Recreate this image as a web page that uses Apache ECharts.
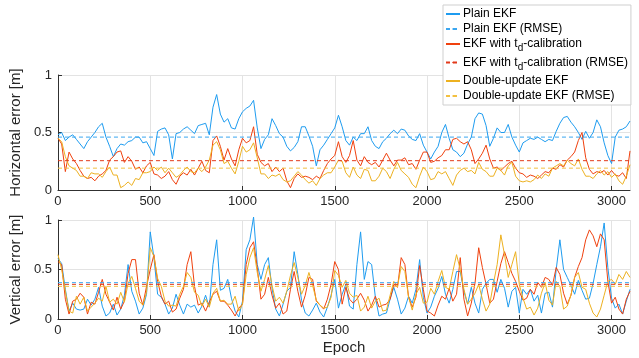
<!DOCTYPE html>
<html>
<head>
<meta charset="utf-8">
<script src="https://cdn.jsdelivr.net/npm/echarts@6/dist/echarts.min.js"></script>
<style>
html,body{margin:0;padding:0;background:#fff;}
#main{width:639px;height:358px;}
</style>
</head>
<body>
<div id="main"></div>
<script>
// one sample every STEP epochs
var STEP = 20;
var seriesNames = ['Plain EKF', 'EKF with td-calibration', 'Double-update EKF'];
var xTicks = [0, 500, 1000, 1500, 2000, 2500, 3000];
var yTicks = [0, 0.5, 1];

// horizontal error [m]
var horPlain = [
  0.48,0.50,0.43,0.46,0.48,0.44,0.40,0.36,0.42,0.46,
  0.50,0.55,0.58,0.46,0.38,0.29,0.36,0.40,0.39,0.42,
  0.43,0.46,0.46,0.41,0.42,0.36,0.30,0.51,0.53,0.54,
  0.48,0.27,0.49,0.50,0.53,0.55,0.52,0.49,0.56,0.57,
  0.58,0.48,0.72,0.83,0.66,0.59,0.62,0.54,0.53,0.62,
  0.68,0.71,0.73,0.78,0.54,0.36,0.44,0.48,0.62,0.56,
  0.49,0.46,0.38,0.34,0.37,0.42,0.55,0.55,0.47,0.38,
  0.21,0.35,0.39,0.44,0.49,0.54,0.65,0.55,0.43,0.39,
  0.46,0.43,0.49,0.49,0.55,0.43,0.38,0.36,0.42,0.45,
  0.49,0.52,0.49,0.53,0.52,0.47,0.44,0.43,0.49,0.39,
  0.33,0.27,0.33,0.38,0.50,0.57,0.45,0.35,0.33,0.29,
  0.32,0.40,0.46,0.62,0.67,0.66,0.56,0.38,0.45,0.54,
  0.50,0.50,0.57,0.46,0.39,0.33,0.41,0.43,0.45,0.44,
  0.46,0.44,0.42,0.44,0.43,0.51,0.58,0.63,0.64,0.59,
  0.55,0.50,0.44,0.51,0.45,0.50,0.61,0.55,0.41,0.30,
  0.23,0.46,0.52,0.53,0.55,0.60
];
var horTd = [
  0.45,0.40,0.16,0.33,0.27,0.23,0.17,0.12,0.10,0.11,
  0.08,0.12,0.14,0.17,0.26,0.29,0.33,0.34,0.24,0.29,
  0.25,0.18,0.20,0.15,0.21,0.24,0.14,0.13,0.10,0.12,
  0.16,0.09,0.05,0.12,0.15,0.13,0.18,0.13,0.19,0.25,
  0.17,0.15,0.43,0.47,0.38,0.26,0.36,0.27,0.21,0.35,
  0.45,0.41,0.43,0.55,0.31,0.24,0.21,0.23,0.16,0.20,
  0.16,0.19,0.08,0.02,0.10,0.14,0.11,0.12,0.11,0.09,
  0.12,0.10,0.17,0.23,0.27,0.30,0.42,0.29,0.24,0.30,
  0.43,0.26,0.21,0.29,0.24,0.22,0.24,0.20,0.26,0.32,
  0.26,0.21,0.26,0.26,0.28,0.22,0.23,0.18,0.26,0.33,
  0.33,0.24,0.25,0.28,0.30,0.35,0.35,0.44,0.45,0.42,
  0.40,0.42,0.35,0.23,0.27,0.32,0.39,0.27,0.19,0.20,
  0.17,0.20,0.23,0.25,0.19,0.15,0.14,0.11,0.13,0.12,
  0.10,0.13,0.16,0.15,0.19,0.18,0.22,0.20,0.26,0.29,
  0.33,0.43,0.50,0.28,0.18,0.14,0.16,0.15,0.17,0.13,
  0.17,0.13,0.12,0.15,0.10,0.34
];
var horDouble = [
  0.45,0.42,0.29,0.21,0.19,0.17,0.12,0.12,0.10,0.15,
  0.14,0.14,0.11,0.16,0.20,0.13,0.13,0.02,0.04,0.07,
  0.04,0.10,0.09,0.15,0.15,0.16,0.20,0.17,0.20,0.15,
  0.19,0.15,0.11,0.13,0.17,0.20,0.16,0.15,0.19,0.16,
  0.20,0.26,0.39,0.42,0.35,0.23,0.25,0.19,0.14,0.25,
  0.38,0.33,0.35,0.41,0.28,0.14,0.14,0.10,0.13,0.12,
  0.14,0.09,0.07,0.08,0.12,0.16,0.13,0.09,0.06,0.08,
  0.04,0.10,0.13,0.15,0.15,0.20,0.26,0.25,0.15,0.11,
  0.20,0.13,0.10,0.18,0.17,0.08,0.08,0.12,0.19,0.16,
  0.10,0.18,0.24,0.17,0.14,0.11,0.05,0.02,0.12,0.20,
  0.16,0.09,0.10,0.16,0.14,0.16,0.10,0.04,0.13,0.17,
  0.19,0.16,0.17,0.14,0.24,0.18,0.16,0.12,0.12,0.19,
  0.17,0.13,0.21,0.24,0.12,0.08,0.07,0.08,0.07,0.09,
  0.13,0.10,0.14,0.12,0.19,0.21,0.23,0.21,0.26,0.23,
  0.21,0.27,0.18,0.12,0.12,0.10,0.14,0.17,0.13,0.16,
  0.11,0.14,0.08,0.05,0.12,0.22
];

// vertical error [m]
var verPlain = [
  0.61,0.56,0.30,0.08,0.16,0.10,0.09,0.10,0.20,0.14,
  0.20,0.32,0.13,0.03,0.06,0.15,0.04,0.10,0.24,0.55,
  0.28,0.18,0.05,0.11,0.25,0.88,0.62,0.25,0.22,0.15,
  0.05,0.11,0.25,0.14,0.05,0.15,0.12,0.14,0.06,0.13,
  0.24,0.12,0.55,0.80,0.29,0.31,0.40,0.21,0.08,0.02,
  0.18,0.70,0.80,1.03,0.55,0.40,0.55,0.62,0.31,0.10,
  0.03,0.15,0.28,0.32,0.68,0.45,0.19,0.06,0.03,0.09,
  0.16,0.07,0.02,0.12,0.24,0.40,0.11,0.25,0.35,0.13,
  0.10,0.55,0.88,0.40,0.58,0.55,0.22,0.03,0.05,0.06,
  0.20,0.32,0.20,0.05,0.11,0.23,0.16,0.30,0.60,0.22,
  0.06,0.12,0.23,0.31,0.43,0.25,0.16,0.30,0.48,0.48,
  0.28,0.15,0.32,0.16,0.06,0.30,0.36,0.40,0.40,0.27,
  0.40,0.31,0.12,0.28,0.32,0.06,0.30,0.25,0.30,0.18,
  0.24,0.06,0.26,0.27,0.12,0.50,0.80,0.50,0.42,0.34,
  0.25,0.39,0.29,0.20,0.21,0.36,0.55,0.73,0.97,0.52,
  0.21,0.11,0.15,0.05,0.18,0.30
];
var verTd = [
  0.58,0.55,0.20,0.05,0.18,0.20,0.26,0.22,0.05,0.17,
  0.15,0.27,0.40,0.25,0.17,0.09,0.22,0.10,0.18,0.46,
  0.60,0.60,0.26,0.14,0.33,0.50,0.65,0.38,0.23,0.15,
  0.18,0.07,0.10,0.21,0.30,0.55,0.68,0.33,0.14,0.16,
  0.08,0.17,0.25,0.28,0.18,0.18,0.14,0.09,0.03,0.11,
  0.15,0.55,0.72,0.78,0.52,0.20,0.25,0.42,0.24,0.11,
  0.16,0.05,0.08,0.30,0.48,0.28,0.12,0.24,0.42,0.40,
  0.18,0.14,0.10,0.20,0.35,0.58,0.50,0.15,0.32,0.20,
  0.16,0.20,0.26,0.19,0.08,0.14,0.23,0.12,0.14,0.15,
  0.20,0.35,0.32,0.62,0.55,0.22,0.12,0.22,0.54,0.30,
  0.08,0.06,0.03,0.14,0.23,0.20,0.31,0.18,0.25,0.62,
  0.20,0.03,0.16,0.36,0.72,0.52,0.35,0.16,0.20,0.38,
  0.56,0.68,0.57,0.46,0.38,0.28,0.19,0.21,0.30,0.25,
  0.37,0.32,0.42,0.40,0.34,0.52,0.45,0.26,0.15,0.24,
  0.42,0.53,0.62,0.80,0.90,0.84,0.73,0.86,0.80,0.38,
  0.16,0.22,0.10,0.05,0.20,0.28
];
var verDouble = [
  0.65,0.50,0.28,0.08,0.06,0.23,0.15,0.22,0.08,0.12,
  0.16,0.21,0.18,0.33,0.17,0.20,0.15,0.27,0.17,0.36,
  0.43,0.31,0.18,0.14,0.27,0.72,0.63,0.41,0.33,0.18,
  0.13,0.14,0.13,0.25,0.33,0.47,0.42,0.27,0.24,0.13,
  0.20,0.12,0.26,0.31,0.18,0.19,0.15,0.15,0.23,0.08,
  0.15,0.45,0.62,0.72,0.47,0.28,0.40,0.54,0.34,0.18,
  0.22,0.16,0.28,0.44,0.57,0.42,0.25,0.34,0.47,0.34,
  0.19,0.14,0.11,0.12,0.22,0.49,0.44,0.32,0.39,0.26,
  0.22,0.24,0.08,0.12,0.23,0.11,0.18,0.21,0.08,0.09,
  0.24,0.38,0.33,0.53,0.48,0.22,0.09,0.25,0.32,0.16,
  0.17,0.31,0.25,0.38,0.49,0.32,0.30,0.48,0.65,0.50,
  0.30,0.15,0.20,0.26,0.35,0.20,0.08,0.15,0.36,0.55,
  0.85,0.65,0.42,0.55,0.68,0.35,0.21,0.10,0.12,0.04,
  0.11,0.26,0.37,0.19,0.14,0.38,0.33,0.10,0.13,0.24,
  0.42,0.47,0.32,0.30,0.16,0.06,0.02,0.10,0.24,0.38,
  0.40,0.35,0.45,0.40,0.48,0.42
];

// RMSE of each filter (plain, td, double-update)
var rmseHor = [0.46, 0.255, 0.19];
var rmseVer = [0.367, 0.35, 0.33];

var lineColors = ['#1e9cf0', '#f0410e', '#edb120'];
var dashColors = ['#3aa6f0', '#e2391a', '#f3c040'];
var axisColor = '#303030';
var fontName = 'Liberation Sans';

function toPoints(arr) {
    return arr.map(function (v, i) { return [i * STEP, v]; });
}

function buildSeries(gridIdx, dataSets, rmse) {
    var list = [];
    for (var k = 0; k < 3; k++) {
        list.push({
            name: seriesNames[k],
            type: 'line',
            xAxisIndex: gridIdx, yAxisIndex: gridIdx,
            data: toPoints(dataSets[k]),
            symbol: 'none', clip: false, silent: true,
            lineStyle: {width: 1, color: lineColors[k]},
            itemStyle: {color: lineColors[k]},
            z: 2 + k
        });
        list.push({
            name: seriesNames[k] + ' (RMSE)',
            type: 'line',
            xAxisIndex: gridIdx, yAxisIndex: gridIdx,
            data: [[0, rmse[k]], [3100, rmse[k]]],
            symbol: 'none', silent: true,
            lineStyle: {width: 1, color: dashColors[k], type: [4, 3]},
            itemStyle: {color: dashColors[k]},
            z: 6
        });
    }
    return list;
}

function xAxisCfg(gridIdx, showName) {
    return {
        type: 'value', gridIndex: gridIdx,
        min: xTicks[0], max: 3100, interval: 500,
        name: showName ? 'Epoch' : '',
        nameLocation: 'middle', nameGap: 21,
        nameTextStyle: {fontFamily: fontName, fontSize: 15, color: '#262626'},
        axisLine: {show: true, lineStyle: {color: axisColor, width: 1}},
        axisTick: {show: true, inside: true, length: 4, lineStyle: {color: axisColor}},
        axisLabel: {
            margin: 5, fontFamily: fontName, fontSize: 13, color: '#262626', showMaxLabel: false,
            formatter: function (v) { return String(v); }
        },
        splitLine: {show: true, lineStyle: {color: '#e3e3e3', width: 1}}
    };
}

function yAxisCfg(gridIdx, title) {
    return {
        type: 'value', gridIndex: gridIdx,
        min: yTicks[0], max: yTicks[yTicks.length - 1], interval: 0.5,
        name: title, nameLocation: 'middle', nameGap: 25,
        nameTextStyle: {fontFamily: fontName, fontSize: 15, color: '#262626'},
        axisLine: {show: true, lineStyle: {color: axisColor, width: 1}},
        axisTick: {show: true, inside: true, length: 4, lineStyle: {color: axisColor}},
        axisLabel: {margin: 6, fontFamily: fontName, fontSize: 13, color: '#262626'},
        splitLine: {show: true, lineStyle: {color: '#e3e3e3', width: 1}}
    };
}

var legendNames = [];
seriesNames.forEach(function (n) { legendNames.push(n, n + ' (RMSE)'); });

var option = {
    animation: false,
    backgroundColor: '#fff',
    grid: [
        {left: 55, top: 75, width: 575, height: 115},
        {left: 55, top: 220, width: 575, height: 99}
    ],
    xAxis: [xAxisCfg(0, false), xAxisCfg(1, true)],
    yAxis: [yAxisCfg(0, 'Horizontal error [m]'), yAxisCfg(1, 'Vertical error [m]')],
    legend: {
        data: legendNames,
        orient: 'vertical',
        left: 443, top: 5,
        itemWidth: 14, itemHeight: 2, itemGap: 3,
        padding: [3, 3, 3, 2],
        backgroundColor: '#fff',
        borderColor: '#cfcfcf', borderWidth: 1,
        selectedMode: false,
        textStyle: {
            fontFamily: fontName, fontSize: 12, color: '#000', padding: [0, 0, 0, -2],
            rich: {
                n: {fontFamily: fontName, fontSize: 12, color: '#000'},
                s: {fontFamily: fontName, fontSize: 10, color: '#000', padding: [9, 0, 0, 0]}
            }
        },
        formatter: function (name) {
            if (name.indexOf('EKF with td') === 0) {
                return '{n|EKF with t}{s|d}{n|' + name.slice(11) + '}';
            }
            return name;
        }
    },
    series: buildSeries(0, [horPlain, horTd, horDouble], rmseHor)
        .concat(buildSeries(1, [verPlain, verTd, verDouble], rmseVer))
};

var myChart = echarts.init(document.getElementById('main'));
myChart.setOption(option);
</script>
</body>
</html>
